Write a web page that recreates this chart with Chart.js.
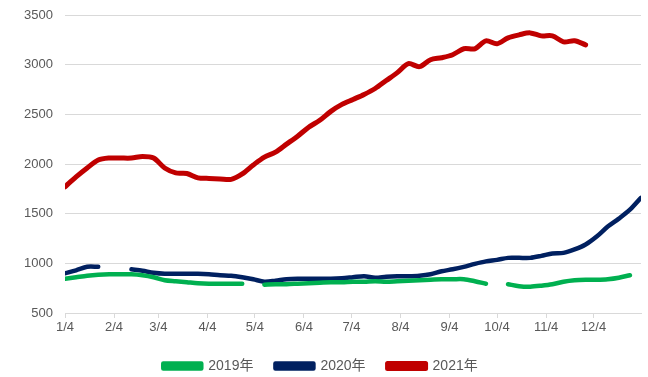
<!DOCTYPE html>
<html>
<head>
<meta charset="utf-8">
<script src="https://cdn.jsdelivr.net/npm/chart.js@4/dist/chart.umd.min.js"></script>
<style>
  html, body { margin: 0; padding: 0; background: #fff; }
  #wrap { width: 648px; height: 377px; }
</style>
</head>
<body>
<div id="wrap"><canvas id="myChart"></canvas></div>
<script>
// week offsets (days since 1/4), one value per week
const seriesNames = ['2019年', '2020年', '2021年']
const tickLabels = ['1/4', '2/4', '3/4', '4/4', '5/4', '6/4', '7/4', '8/4', '9/4', '10/4', '11/4', '12/4']

const v2019 = [845, 860, 875, 885, 890, 890, 890, 880, 860, 830, 820, 810, 800, 795, 795, 795, 795, null,
  785, 790, 790, 795, 800, 805, 810, 810, 815, 815, 820, 815, 820, 825, 830, 835, 840, 840, 840, 820, 795, null,
  790, 770, 765, 775, 790, 815, 830, 835, 835, 840, 855, 880]
const v2020 = [900, 930, 965, 965, null, null, 940, 925, 905, 895, 895, 895, 895, 890, 880, 875, 860, 840,
  815, 825, 840, 845, 845, 845, 845, 850, 860, 870, 855, 865, 870, 870, 875, 890, 920, 940, 965, 995,
  1020, 1035, 1055, 1055, 1055, 1075, 1100, 1105, 1140, 1190, 1270, 1370, 1450, 1540, 1660]
const v2021 = [1770, 1870, 1960, 2040, 2060, 2060, 2060, 2075, 2060, 1960, 1910, 1905, 1860, 1855, 1850, 1845,
  1900, 1990, 2070, 2120, 2200, 2280, 2370, 2440, 2530, 2600, 2650, 2700, 2760, 2840, 2920, 3010, 2980,
  3050, 3070, 3100, 3160, 3160, 3240, 3210, 3270, 3300, 3320, 3290, 3290, 3230, 3240, 3200]

const colors = ['#00B050', '#002060', '#C00000']
const widths = [4.5, 4.5, 5]

// day offset of each tick from 1/4
const tickDays = tickLabels.map(l => {
  const m = parseInt(l.split('/')[0])
  return Math.round((new Date(2021, m - 1, 4) - new Date(2021, 0, 4)) / 86400000)
})

const toPoints = arr => arr.map((v, i) => ({ x: i * 7, y: v }))

const ctx = document.getElementById('myChart')
const myChart = new Chart(ctx, {
  type: 'line',
  data: {
    datasets: [v2019, v2020, v2021].map((arr, i) => ({
      label: seriesNames[i],
      data: toPoints(arr),
      borderColor: colors[i],
      backgroundColor: colors[i],
      borderWidth: widths[i],
      borderCapStyle: 'round',
      borderJoinStyle: 'round',
      pointRadius: 0,
      tension: 0.3,
      spanGaps: false
    }))
  },
  options: {
    responsive: true,
    maintainAspectRatio: false,
    animation: false,
    layout: { padding: { top: 15, right: 7, left: 0, bottom: -6 } },
    plugins: {
      legend: {
        position: 'bottom',
        labels: {
          boxWidth: 38,
          boxHeight: 5,
          padding: 22,
          color: '#595959',
          font: { family: 'Liberation Sans, Noto Sans CJK SC', size: 14 }
        }
      },
      tooltip: { enabled: false }
    },
    scales: {
      x: {
        type: 'linear',
        min: 0,
        max: 364,
        afterBuildTicks: axis => { axis.ticks = tickDays.map(d => ({ value: d })) },
        afterFit: axis => { axis.height = 24 },
        ticks: {
          autoSkip: false,
          maxRotation: 0,
          padding: 2,
          color: '#595959',
          font: { family: 'Liberation Sans, Noto Sans CJK SC', size: 13 },
          callback: v => tickLabels[tickDays.indexOf(v)]
        },
        grid: { drawOnChartArea: false, drawTicks: true, tickLength: 5, color: '#d9d9d9' },
        border: { display: true, color: '#d9d9d9', width: 1 }
      },
      y: {
        min: 500,
        max: 3500,
        afterFit: axis => {
          axis.width = 65
          axis.paddingTop = 0
          axis.paddingBottom = 0
        },
        ticks: {
          stepSize: 500,
          padding: 12,
          color: '#595959',
          font: { family: 'Liberation Sans, Noto Sans CJK SC', size: 13 },
          callback: v => String(v)
        },
        grid: { color: '#d9d9d9', drawTicks: false },
        border: { display: false }
      }
    }
  }
})
</script>
</body>
</html>
